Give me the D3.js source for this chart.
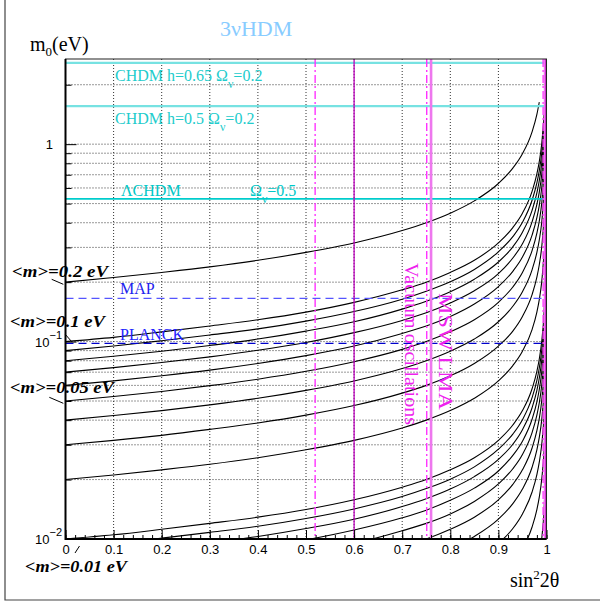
<!DOCTYPE html>
<html>
<head>
<meta charset="utf-8">
<script src="https://cdn.jsdelivr.net/npm/d3@7"></script>
<style>
  body { margin: 0; background: #fff; }
  svg { display: block; }
  .serif { font-family: "Liberation Serif", "DejaVu Serif", serif; }
  .sans { font-family: "Liberation Sans", Arial, sans-serif; }
</style>
</head>
<body>
<div id="chart"></div>
<script>
// Data

// sin^2 2theta sample points shared by all the curves
let sinVals = [0, 0.1, 0.2, 0.3, 0.4, 0.5, 0.6, 0.7, 0.75, 0.8, 0.85, 0.9, 0.93, 0.95, 0.97, 0.98, 0.985, 0.99, 0.995, 0.997];

// m0 (eV) along each curve, one row per <m>
let curve020 = [0.2, 0.211, 0.224, 0.239, 0.258, 0.283, 0.316, 0.365, 0.4, 0.447, 0.516, 0.632, 0.756, 0.894, 1.155, 1.414, 1.633, null, null, null];
let curve010 = [0.1, 0.105, 0.112, 0.120, 0.129, 0.141, 0.158, 0.183, 0.2, 0.224, 0.258, 0.316, 0.378, 0.447, 0.577, 0.707, 0.816, 1.0, 1.414, null];
let curve009 = [0.09, 0.0949, 0.101, 0.108, 0.116, 0.127, 0.142, 0.164, 0.18, 0.201, 0.232, 0.285, 0.340, 0.402, 0.520, 0.636, 0.735, 0.9, 1.273, null];
let curve008 = [0.08, 0.0843, 0.0894, 0.0956, 0.103, 0.113, 0.126, 0.146, 0.16, 0.179, 0.207, 0.253, 0.302, 0.358, 0.462, 0.566, 0.653, 0.8, 1.131, null];
let curve007 = [0.07, 0.0738, 0.0783, 0.0837, 0.0904, 0.0990, 0.111, 0.128, 0.14, 0.157, 0.181, 0.221, 0.265, 0.313, 0.404, 0.495, 0.572, 0.7, 0.990, null];
let curve006 = [0.06, 0.0632, 0.0671, 0.0717, 0.0775, 0.0849, 0.0949, 0.110, 0.12, 0.134, 0.155, 0.190, 0.227, 0.268, 0.346, 0.424, 0.490, 0.6, 0.849, null];
let curve005 = [0.05, 0.0527, 0.0559, 0.0598, 0.0645, 0.0707, 0.0791, 0.0913, 0.1, 0.112, 0.129, 0.158, 0.189, 0.224, 0.289, 0.354, 0.408, 0.5, 0.707, null];
let curve004 = [0.04, 0.0422, 0.0447, 0.0478, 0.0516, 0.0566, 0.0632, 0.0730, 0.08, 0.0894, 0.103, 0.126, 0.151, 0.179, 0.231, 0.283, 0.327, 0.4, 0.566, null];
let curve003 = [0.03, 0.0316, 0.0335, 0.0359, 0.0387, 0.0424, 0.0474, 0.0548, 0.06, 0.0671, 0.0775, 0.0949, 0.113, 0.134, 0.173, 0.212, 0.245, 0.3, 0.424, null];
let curve002 = [0.02, 0.0211, 0.0224, 0.0239, 0.0258, 0.0283, 0.0316, 0.0365, 0.04, 0.0447, 0.0516, 0.0632, 0.0756, 0.0894, 0.115, 0.141, 0.163, 0.2, 0.283, null];
let curve0010 = [0.01, 0.0105, 0.0112, 0.0120, 0.0129, 0.0141, 0.0158, 0.0183, 0.02, 0.0224, 0.0258, 0.0316, 0.0378, 0.0447, 0.0577, 0.0707, 0.0816, 0.1, 0.141, 0.183];
let curve0009 = [0.009, 0.00949, 0.0101, 0.0108, 0.0116, 0.0127, 0.0142, 0.0164, 0.018, 0.0201, 0.0232, 0.0285, 0.0340, 0.0402, 0.0520, 0.0636, 0.0735, 0.09, 0.127, 0.164];
let curve0008 = [0.008, 0.00843, 0.00894, 0.00956, 0.0103, 0.0113, 0.0126, 0.0146, 0.016, 0.0179, 0.0207, 0.0253, 0.0302, 0.0358, 0.0462, 0.0566, 0.0653, 0.08, 0.113, 0.146];
let curve0007 = [0.007, 0.00738, 0.00783, 0.00837, 0.00904, 0.0099, 0.0111, 0.0128, 0.014, 0.0157, 0.0181, 0.0221, 0.0265, 0.0313, 0.0404, 0.0495, 0.0572, 0.07, 0.099, 0.128];
let curve0006 = [0.006, 0.00632, 0.00671, 0.00717, 0.00775, 0.00849, 0.00949, 0.011, 0.012, 0.0134, 0.0155, 0.019, 0.0227, 0.0268, 0.0346, 0.0424, 0.049, 0.06, 0.0849, 0.110];
let curve0005 = [0.005, 0.00527, 0.00559, 0.00598, 0.00645, 0.00707, 0.00791, 0.00913, 0.01, 0.0112, 0.0129, 0.0158, 0.0189, 0.0224, 0.0289, 0.0354, 0.0408, 0.05, 0.0707, 0.0913];
let curve0004 = [0.004, 0.00422, 0.00447, 0.00478, 0.00516, 0.00566, 0.00632, 0.0073, 0.008, 0.00894, 0.0103, 0.0126, 0.0151, 0.0179, 0.0231, 0.0283, 0.0327, 0.04, 0.0566, 0.073];
let curve0003 = [0.003, 0.00316, 0.00335, 0.00359, 0.00387, 0.00424, 0.00474, 0.00548, 0.006, 0.00671, 0.00775, 0.00949, 0.0113, 0.0134, 0.0173, 0.0212, 0.0245, 0.03, 0.0424, 0.0548];
let curve0002 = [0.002, 0.00211, 0.00224, 0.00239, 0.00258, 0.00283, 0.00316, 0.00365, 0.004, 0.00447, 0.00516, 0.00632, 0.00756, 0.00894, 0.0115, 0.0141, 0.0163, 0.02, 0.0283, 0.0365];
let curve0001 = [0.001, 0.00105, 0.00112, 0.0012, 0.00129, 0.00141, 0.00158, 0.00183, 0.002, 0.00224, 0.00258, 0.00316, 0.00378, 0.00447, 0.00577, 0.00707, 0.00816, 0.01, 0.0141, 0.0183];

let allCurves = [curve020, curve010, curve009, curve008, curve007, curve006, curve005, curve004, curve003, curve002,
  curve0010, curve0009, curve0008, curve0007, curve0006, curve0005, curve0004, curve0003, curve0002, curve0001];

// horizontal bounds (m0 in eV)
let chdm065 = 2.58;
let chdm050 = 1.56;
let lambdaChdm = 0.528;
let mapLimit = 0.1655;
let planckLimit = 0.098;

// vertical bounds (sin^2 2theta)
let vacuumDash = [0.519, 0.751, 0.993];
let vacuumSolid = [0.6, 0.999];
let mswSolid = [0.76, 0.997];

// axis ticks
let xMajor = [0, 0.1, 0.2, 0.3, 0.4, 0.5, 0.6, 0.7, 0.8, 0.9, 1];
let xLabels = ["0", "0.1", "0.2", "0.3", "0.4", "0.5", "0.6", "0.7", "0.8", "0.9", "1"];
let xMinor = d3.range(0, 1.0001, 0.02);
let yDecades = [0.01, 0.1, 1];
let yMinor = [0.02, 0.03, 0.04, 0.05, 0.06, 0.07, 0.08, 0.09, 0.2, 0.3, 0.4, 0.5, 0.6, 0.7, 0.8, 0.9, 2];

// Section 1: svg + scales
let width = 600;
let height = 602;
let pLeft = 65.5, pRight = 546.5, pTop = 59, pBottom = 539;

let svg = d3.select("#chart").append("svg")
  .attr("width", width)
  .attr("height", height);

let xScale = d3.scaleLinear().domain([0, 1]).range([pLeft, pRight]);
let yScale = d3.scaleLog().domain([0.01, 2.7]).range([pBottom, pTop]);

// canvas frame (left + bottom edges)
svg.append("path")
  .attr("d", "M5,0 V600 H600")
  .attr("fill", "none")
  .attr("stroke", "#444")
  .attr("stroke-width", 1.2);

svg.append("clipPath").attr("id", "plotClip")
  .append("rect")
  .attr("x", pLeft).attr("y", pTop)
  .attr("width", pRight - pLeft).attr("height", pBottom - pTop);

// grid
let grid = svg.append("g").attr("class", "grid");
grid.selectAll(".gx")
  .data(xMajor.slice(1, -1))
  .enter().append("line")
  .attr("x1", d => xScale(d)).attr("x2", d => xScale(d))
  .attr("y1", pTop).attr("y2", pBottom);
grid.selectAll(".gy")
  .data(yMinor.concat([0.1, 1]))
  .enter().append("line")
  .attr("x1", pLeft).attr("x2", pRight)
  .attr("y1", d => yScale(d)).attr("y2", d => yScale(d));
grid.selectAll("line")
  .attr("stroke", "#333")
  .attr("stroke-width", 1)
  .attr("stroke-dasharray", "1,2");

// Section 2: bands / limits
let plot = svg.append("g").attr("clip-path", "url(#plotClip)");

function hLine(v, color, w, dash) {
  plot.append("line")
    .attr("x1", pLeft).attr("x2", pRight)
    .attr("y1", yScale(v)).attr("y2", yScale(v))
    .attr("stroke", color).attr("stroke-width", w)
    .attr("stroke-dasharray", dash);
}
function vLine(v, color, w, dash) {
  plot.append("line")
    .attr("x1", xScale(v)).attr("x2", xScale(v))
    .attr("y1", pTop).attr("y2", pBottom)
    .attr("stroke", color).attr("stroke-width", w)
    .attr("stroke-dasharray", dash);
}

// curves
let line = d3.line()
  .defined(d => d[1] !== null)
  .x(d => xScale(d[0]))
  .y(d => yScale(d[1]))
  .curve(d3.curveMonotoneX);

plot.selectAll(".curve")
  .data(allCurves)
  .enter().append("path")
  .attr("class", "curve")
  .attr("d", c => line(c.map((v, i) => [sinVals[i], v])))
  .attr("fill", "none")
  .attr("stroke", "#000")
  .attr("stroke-width", 1.1);

hLine(chdm065, "#77e2e2", 2.2, null);
hLine(chdm050, "#77e2e2", 2.2, null);
hLine(lambdaChdm, "#00cccc", 1.6, null);
hLine(mapLimit, "#5555ff", 1.2, "8,5");
hLine(planckLimit, "#0000cc", 1.2, "8,5");

vacuumDash.forEach(v => vLine(v, "#ff33ff", 1.4, "8,3,2,3"));
mswSolid.forEach(v => vLine(v, "#ee77ee", 2.6, null));
vacuumSolid.forEach(v => vLine(v, "#bb00bb", 1.3, null));

// Section 3: axes
let xAxisMaj = d3.axisBottom(xScale).tickValues(xMajor).tickSize(-9).tickPadding(6)
  .tickFormat((d, i) => xLabels[i]);
let xAxisMin = d3.axisBottom(xScale).tickValues(xMinor).tickSize(-4).tickFormat("");
let yAxisMaj = d3.axisLeft(yScale).tickValues(yDecades).tickSize(-11).tickFormat("");
let yAxisMin = d3.axisLeft(yScale).tickValues(yMinor).tickSize(-6).tickFormat("");

svg.append("g").attr("transform", "translate(0," + pBottom + ")").call(xAxisMin);
let gx = svg.append("g").attr("transform", "translate(0," + pBottom + ")").call(xAxisMaj);
gx.selectAll("text")
  .attr("class", "sans")
  .style("font-size", "13px")
  .attr("fill", "#000");
svg.append("g").attr("transform", "translate(" + pLeft + ",0)").call(yAxisMin);
svg.append("g").attr("transform", "translate(" + pLeft + ",0)").call(yAxisMaj);
svg.selectAll(".domain").remove();
svg.selectAll(".tick line").attr("stroke", "#000").attr("stroke-width", 1);

// frame
svg.append("rect")
  .attr("x", pLeft).attr("y", pTop)
  .attr("width", pRight - pLeft).attr("height", pBottom - pTop)
  .attr("fill", "none").attr("stroke", "#222").attr("stroke-width", 1);
svg.append("line").attr("x1", pLeft).attr("x2", pLeft).attr("y1", pTop).attr("y2", pBottom + 1)
  .attr("stroke", "#000").attr("stroke-width", 2);
svg.append("line").attr("x1", pLeft).attr("x2", pRight).attr("y1", pBottom).attr("y2", pBottom)
  .attr("stroke", "#000").attr("stroke-width", 2);

// y tick labels
let yl = svg.append("g").attr("class", "sans").style("font-size", "13px");
yl.append("text").attr("x", 53).attr("y", yScale(1) + 5).attr("text-anchor", "end").text("1");
[[0.1, "\u22121"], [0.01, "\u22122"]].forEach(p => {
  let t = yl.append("text").attr("x", 35).attr("y", yScale(p[0]) + 5);
  t.append("tspan").text("10");
  t.append("tspan").attr("dy", -8).style("font-size", "11px").text(p[1]);
});

// Section 4: titles and labels
svg.append("text").attr("class", "serif")
  .attr("x", 220).attr("y", 36)
  .style("font-size", "22px").attr("fill", "#88ccff")
  .text("3\u03bdHDM");

let yt = svg.append("text").attr("class", "serif")
  .attr("x", 30).attr("y", 51).style("font-size", "20px");
yt.append("tspan").text("m");
yt.append("tspan").attr("dy", 5).style("font-size", "13px").text("0");
yt.append("tspan").attr("dy", -5).text("(eV)");

let xt = svg.append("text").attr("class", "serif")
  .attr("x", 510).attr("y", 587).style("font-size", "20px");
xt.append("tspan").text("sin");
xt.append("tspan").attr("dy", -8).style("font-size", "13px").text("2");
xt.append("tspan").attr("dy", 8).text("2\u03b8");

function omegaLabel(x, y, pre, post, color) {
  let t = svg.append("text").attr("class", "serif")
    .attr("x", x).attr("y", y).style("font-size", "16px").attr("fill", color);
  t.append("tspan").text(pre + "\u03a9");
  t.append("tspan").attr("dy", 7).style("font-size", "12px").text("\u03bd");
  t.append("tspan").attr("dy", -7).text(post);
}
omegaLabel(115, 81, "CHDM h=0.65 ", "=0.2", "#22cccc");
omegaLabel(115, 124, "CHDM h=0.5  ", "=0.2", "#22cccc");

svg.append("text").attr("class", "serif")
  .attr("x", 121).attr("y", 196).style("font-size", "16px").attr("fill", "#00c8c8")
  .text("\u039bCHDM");
omegaLabel(250, 196, "", "=0.5", "#00c8c8");

svg.append("text").attr("class", "serif")
  .attr("x", 120).attr("y", 294).style("font-size", "16px").attr("fill", "#2222ee")
  .text("MAP");
svg.append("text").attr("class", "serif")
  .attr("x", 120).attr("y", 340).style("font-size", "16px").attr("fill", "#2222ff")
  .text("PLANCK");

// rotated labels
svg.append("text").attr("class", "serif")
  .attr("transform", "translate(405,263) rotate(90)")
  .style("font-size", "18px").attr("fill", "#ee22ee")
  .attr("textLength", 162).attr("lengthAdjust", "spacingAndGlyphs")
  .text("Vacuum oscillations");
svg.append("text").attr("class", "serif")
  .attr("transform", "translate(439,293) rotate(90)")
  .style("font-size", "19px").attr("fill", "#ee22ee")
  .attr("textLength", 117).attr("lengthAdjust", "spacingAndGlyphs")
  .text("MSW LMA");

// <m> labels with pointers
let mLabels = [
  { t: "<m>=0.2 eV", x: 12, y: 277, len: 96, p: [51.7, 279.3, 63.3, 284.3] },
  { t: "<m>=0.1 eV", x: 10, y: 327, len: 95, p: [65, 334, 71.7, 341.7] },
  { t: "<m>=0.05 eV", x: 10, y: 393, len: 104, p: [49.3, 397.3, 63.3, 403.3] },
  { t: "<m>=0.01 eV", x: 25, y: 572, len: 102, p: [75, 553, 79.5, 546] }
];
mLabels.forEach(m => {
  svg.append("text").attr("class", "serif")
    .attr("x", m.x).attr("y", m.y)
    .style("font-size", "16px").style("font-weight", "bold").style("font-style", "italic")
    .attr("textLength", m.len).attr("lengthAdjust", "spacingAndGlyphs")
    .text(m.t);
  svg.append("line")
    .attr("x1", m.p[0]).attr("y1", m.p[1]).attr("x2", m.p[2]).attr("y2", m.p[3])
    .attr("stroke", "#000").attr("stroke-width", 1);
});
</script>
</body>
</html>
